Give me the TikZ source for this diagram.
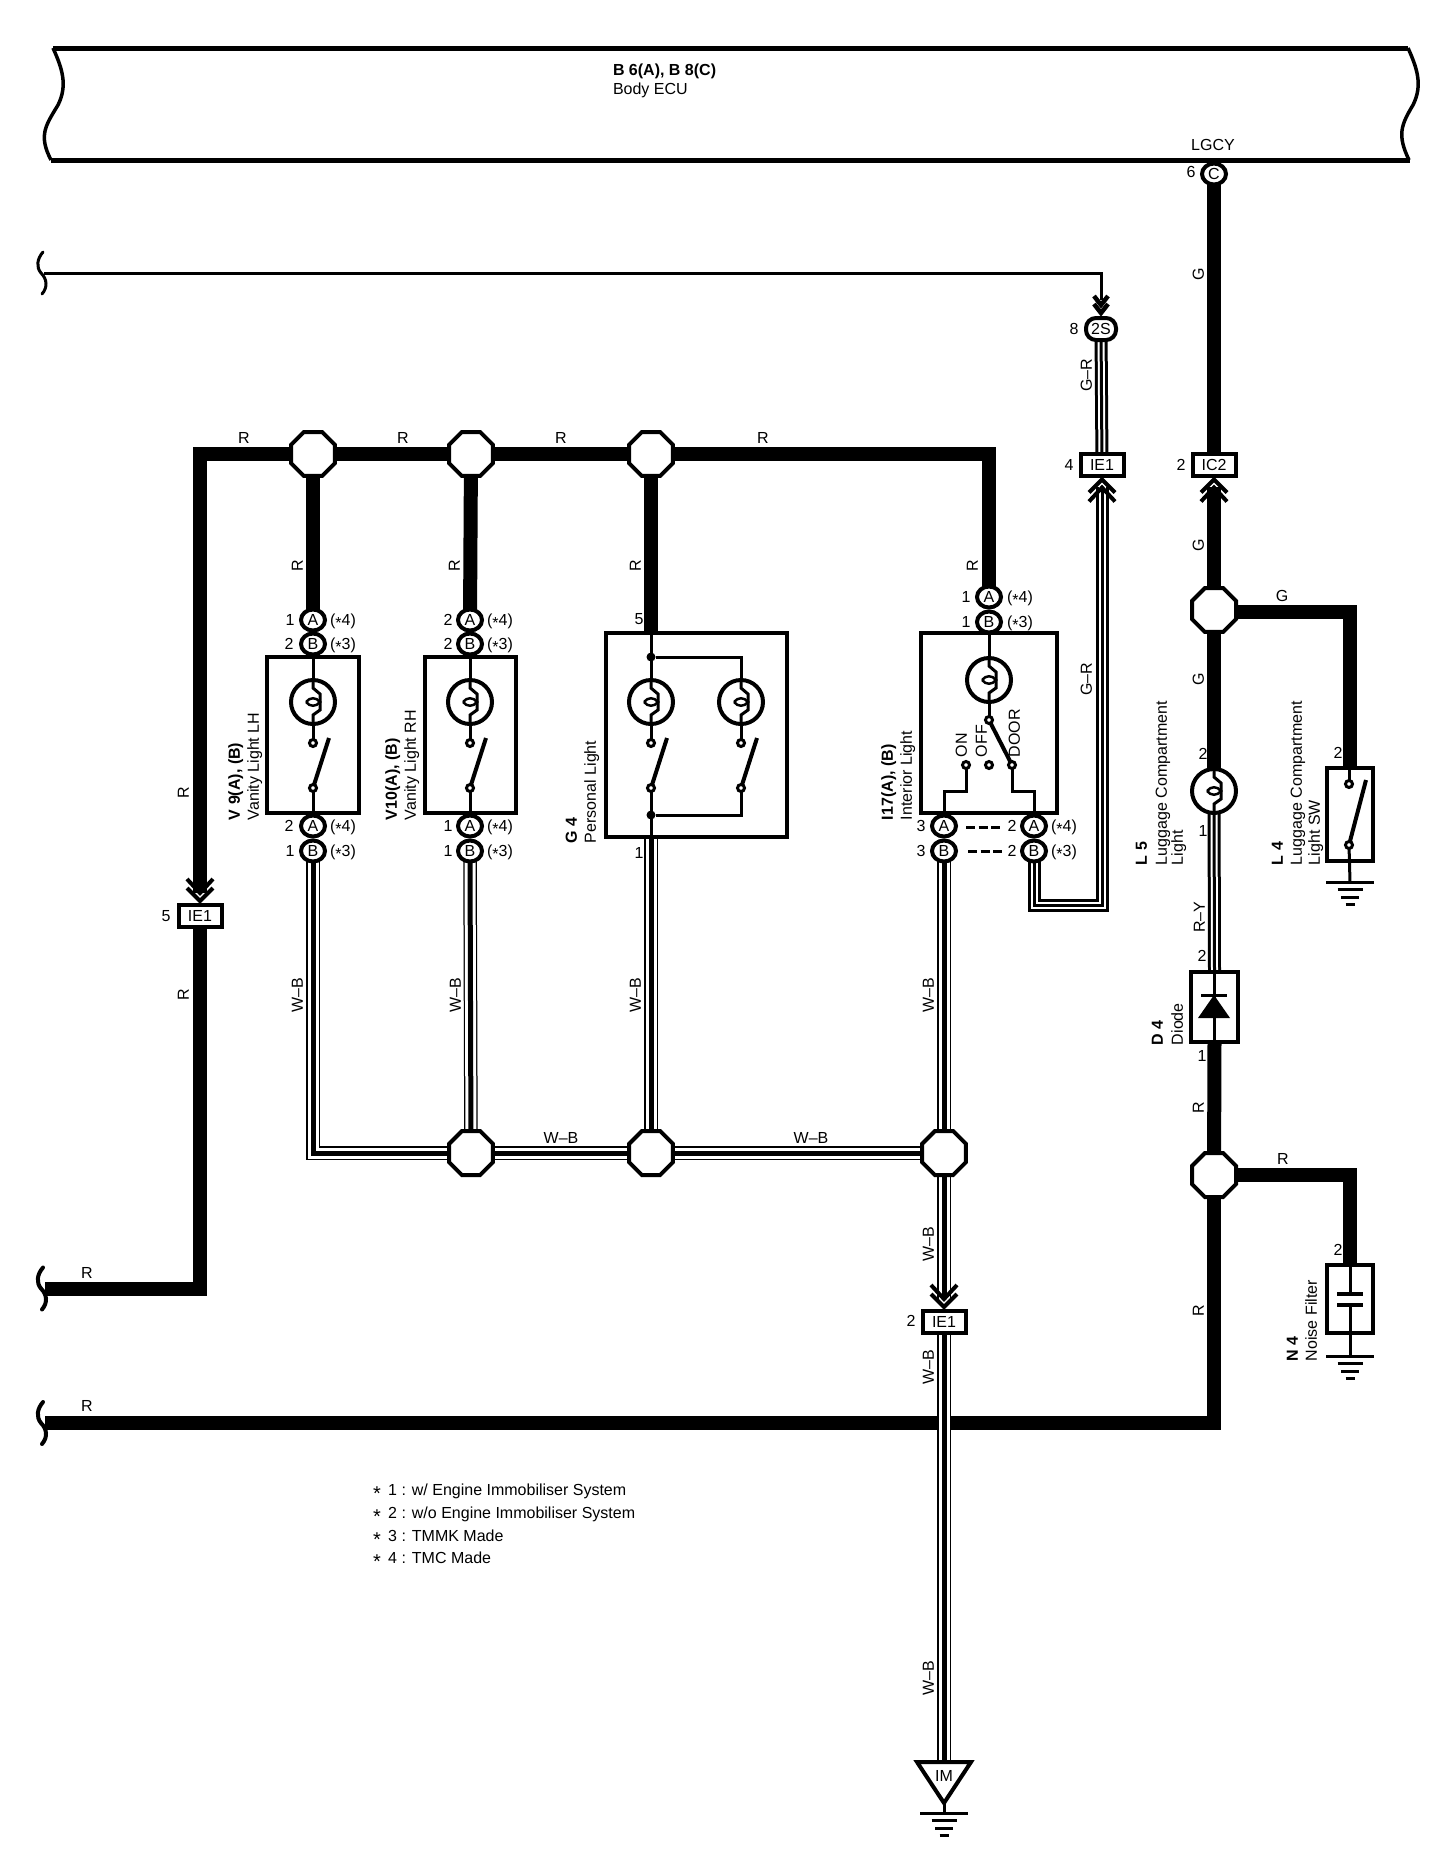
\documentclass[tikz,border=0pt]{standalone}
\usepackage{fontspec}
\setmainfont{Liberation Sans}
\usetikzlibrary{shapes.geometric,backgrounds,calc}
\newcommand{\st}{\raisebox{-3pt}{*}}
\newcommand{\stk}{\raisebox{-4.5pt}{\scalebox{1.25}{*}}}
\tikzset{
  lb/.style={inner sep=0pt,outer sep=0pt,font=\fontsize{16}{16}\selectfont,text height=11.5pt,text depth=0pt},
  lbr/.style={lb,rotate=90},
  lbv/.style={lb,rotate=90,anchor=west},
  bl/.style={font=\fontsize{16}{16}\selectfont\bfseries},
  conn/.style={lb,ellipse,draw,fill=white,line width=4pt,minimum width=24pt,minimum height=21pt},
  joint/.style={regular polygon,regular polygon sides=8,draw,fill=white,line width=4pt,minimum size=47.6pt,inner sep=0pt,outer sep=0pt},
  cbox/.style={lb,rectangle,draw,fill=white,line width=4pt,minimum width=43pt,minimum height=22pt},
  modbox/.style={rectangle,draw,line width=4pt,inner sep=0pt,outer sep=0pt},
  lampc/.style={circle,draw,fill=white,line width=4pt,minimum size=44pt,inner sep=0pt,outer sep=0pt},
  term/.style={circle,draw,fill=white,line width=3pt,minimum size=7pt,inner sep=0pt,outer sep=0pt},
  dotn/.style={circle,fill=black,minimum size=9pt,inner sep=0pt,outer sep=0pt},
  thinw/.style={line width=3pt},
  blade/.style={line width=4pt},
  heavy/.style={line width=14pt},
  grwire/.style={line width=13pt,postaction={draw=white,line width=7pt},postaction={draw=black,line width=3pt}},
  wbwire/.style={line width=13.5pt,postaction={draw=white,line width=11pt},postaction={draw=black,line width=5pt}},
  chev/.style={line width=4pt}
}
\newcommand{\lamp}[3]{%
  \node[lampc] (#1) at (#2,#3) {};
  \begin{scope}[shift={(#2,#3)}]
    \draw[thinw] (0,-22) -- (0,-14) -- (7,-8) -- (7,8) -- (0,13) -- (0,22);
    \draw[line width=2.5pt] (-7,0) .. controls (-3,-5) and (3,-5) .. (7,0) .. controls (3,5) and (-3,5) .. (-7,0);
  \end{scope}}
\newcommand{\swt}[4]{%
  \node[term] (#1a) at (#2,#3) {};
  \node[term] (#1b) at (#2,#4) {};
  \coordinate (#1c) at ($(#2,#3)+(16,-5)$);
  \draw[blade] (#1b) -- (#1c);}
\newcommand{\gnd}[3]{%
  \begin{scope}[shift={(#2,#3)}]
    \coordinate (#1) at (0,0);
    \draw[thinw] (-24,0) -- (24,0);
    \draw[thinw] (-12.5,7.5) -- (12.5,7.5);
    \draw[thinw] (-9,15) -- (9,15);
    \draw[thinw] (-4.5,22.5) -- (4.5,22.5);
  \end{scope}}
\newcommand{\chevd}[2]{%
  \draw[chev] (#1-13,#2-24) -- (#1,#2-10) -- (#1+13,#2-24);
  \draw[chev] (#1-13,#2-15) -- (#1,#2-2) -- (#1+13,#2-15);}
\newcommand{\chevu}[2]{%
  \draw[chev] (#1-13,#2+24) -- (#1,#2+10) -- (#1+13,#2+24);
  \draw[chev] (#1-13,#2+15) -- (#1,#2+2) -- (#1+13,#2+15);}
\newcommand{\brk}[3]{%
  \draw[line width=#3,line cap=round] (#1-4,#2-21) .. controls (#1-10,#2-14) and (#1-11,#2-6) .. (#1-6,#2) .. controls (#1,#2+6) and (#1+1,#2+14) .. (#1-5,#2+21);}
\begin{document}
\begin{tikzpicture}[x=1pt,y=-1pt]
\useasboundingbox (0,0) rectangle (1456,1856);
\begin{pgfonlayer}{background}
\fill[white] (0,0) rectangle (1456,1856);
\end{pgfonlayer}

% Body ECU
\draw[line width=5pt] (53,48) -- (1408,48);
\draw[line width=5pt] (51,160) -- (1410,160);
\draw[line width=3.5pt] (53,48) .. controls (62,68) and (68,85) .. (58,105) .. controls (46,125) and (38,135) .. (51,160);
\draw[line width=3.5pt] (1408,48) .. controls (1417,68) and (1423,85) .. (1413,105) .. controls (1401,125) and (1397,135) .. (1409,160);
\node[lb,bl,anchor=west] (t1) at (613,70) {B 6(A), B 8(C)};
\node[lb,anchor=west] (t2) at (613,89) {Body ECU};
\node[lb] (t3) at (1213,145) {LGCY};

% top thin wire
\coordinate (thinL) at (44,273);
\brk{47}{273}{3pt}
\node[lb,font=\fontsize{16}{16}\selectfont\bfseries,rectangle,draw,fill=white,line width=4pt,rounded corners=10pt,minimum width=30pt,minimum height=22pt] (s2) at (1101,329) {\mdseries 2S};
\coordinate (thinT) at (1101,300);
\draw[line width=4.5pt] (1094,296) -- (1101,305) -- (1108,296);
\draw[line width=4.5pt] (1094,304) -- (1101,313) -- (1108,304);
\node[lb] (n8) at (1074,329) {8};

% box connectors
\node[cbox] (ie4) at (1102,465) {IE1};
\node[cbox] (ic2) at (1214,465) {IC2};
\node[cbox] (ie5) at (200,916) {IE1};
\node[cbox] (ie2) at (944,1321.5) {IE1};
\chevu{1102}{477.5}
\chevu{1214}{477.5}
\chevd{200}{903}
\chevd{944}{1309}
\coordinate (cv4) at (1102,487);
\coordinate (cv2) at (1214,487);
\coordinate (cv5) at (200,893);
\coordinate (cv1) at (944,1299);
\node[lb] (n4) at (1069,465) {4};
\node[lb] (n2a) at (1181,465) {2};
\node[lb] (n5) at (166,916) {5};
\node[lb] (n2b) at (911,1321) {2};

% junctions
\node[joint] (j1) at (313,454) {};
\node[joint] (j2) at (471,454) {};
\node[joint] (j3) at (651,454) {};
\node[joint] (j4) at (471,1153) {};
\node[joint] (j5) at (651,1153) {};
\node[joint] (j6) at (944,1153) {};
\node[joint] (j7) at (1214,610) {};
\node[joint] (j8) at (1214,1175) {};

% modules
\node[modbox,minimum width=92pt,minimum height=156pt] (v9) at (313,735) {};
\node[modbox,minimum width=91pt,minimum height=156pt] (v10) at (470.5,735) {};
\node[modbox,minimum width=181pt,minimum height=204pt] (g4) at (696.5,735) {};
\node[modbox,minimum width=136.5pt,minimum height=180pt] (i17) at (989,723) {};
\node[modbox,minimum width=46pt,minimum height=93pt] (l4) at (1350,814.5) {};
\node[modbox,minimum width=47pt,minimum height=70pt] (d4) at (1214.5,1007) {};
\node[modbox,minimum width=46pt,minimum height=68pt] (n4b) at (1350,1299) {};

% lamps and switches
\lamp{la1}{313}{702}
\lamp{la2}{470}{702}
\lamp{la3}{651}{702}
\lamp{la4}{741}{702}
\lamp{la5}{989}{680}
\lamp{la6}{1214}{791}
\swt{sw1}{313}{743}{788}
\swt{sw2}{470}{743}{788}
\swt{sw3}{651}{743}{788}
\swt{sw4}{741}{743}{788}
\node[term] (sw5a) at (1349,784) {};
\node[term] (sw5b) at (1349,845) {};
\coordinate (sw5c) at (1366,780);
\draw[blade] (sw5b) -- (sw5c);
\node[dotn] (d1) at (651,657) {};
\node[dotn] (d2) at (651,815) {};

% interior light switch
\node[term] (ia) at (989,720) {};
\node[term] (ion) at (966,765) {};
\node[term] (ioff) at (989,765) {};
\node[term] (idoor) at (1012,765) {};
\draw[blade] (ia) -- (idoor);
\coordinate (iL) at (944,791);
\coordinate (iR) at (1034,791);
\node[lbv] (ton) at (961,757) {ON};
\node[lbv] (toff) at (981,757) {OFF};
\node[lbv] (tdoor) at (1014,757) {DOOR};

% round connectors
\node[conn] (cc) at (1214,174) {C};
\node[lb] (n6) at (1191,172) {6};
\node[conn] (v9a) at (313,620) {A};
\node[conn] (v9b) at (313,644) {B};
\node[conn] (v9c) at (313,826) {A};
\node[conn] (v9d) at (313,851) {B};
\node[conn] (v10a) at (470,620) {A};
\node[conn] (v10b) at (470,644) {B};
\node[conn] (v10c) at (470,826) {A};
\node[conn] (v10d) at (470,851) {B};
\node[conn] (i1a) at (989,597) {A};
\node[conn] (i1b) at (989,622) {B};
\node[conn] (i3a) at (944,826) {A};
\node[conn] (i3b) at (944,851) {B};
\node[conn] (i2a) at (1034,826) {A};
\node[conn] (i2b) at (1034,851) {B};

% pin numbers
\node[lb] (p1) at (290,620) {1};
\node[lb] (p2) at (289,644) {2};
\node[lb] (p3) at (289,826) {2};
\node[lb] (p4) at (290,851) {1};
\node[lb] (p5) at (448,620) {2};
\node[lb] (p6) at (448,644) {2};
\node[lb] (p7) at (448,826) {1};
\node[lb] (p8) at (448,851) {1};
\node[lb] (p9) at (639,619) {5};
\node[lb] (p10) at (639,853) {1};
\node[lb] (p11) at (966,597) {1};
\node[lb] (p12) at (966,622) {1};
\node[lb] (p13) at (921,826) {3};
\node[lb] (p14) at (921,851) {3};
\node[lb] (p15) at (1012,826) {2};
\node[lb] (p16) at (1012,851) {2};
\node[lb] (p17) at (1203,754) {2};
\node[lb] (p18) at (1203,831) {1};
\node[lb] (p19) at (1338,753) {2};
\node[lb] (p20) at (1202,956) {2};
\node[lb] (p21) at (1202,1056) {1};
\node[lb] (p22) at (1338,1250) {2};

% (*n) labels
\node[lb] (q1) at (343,620) {(\st4)};
\node[lb] (q2) at (343,644) {(\st3)};
\node[lb] (q3) at (343,826) {(\st4)};
\node[lb] (q4) at (343,851) {(\st3)};
\node[lb] (q5) at (500,620) {(\st4)};
\node[lb] (q6) at (500,644) {(\st3)};
\node[lb] (q7) at (500,826) {(\st4)};
\node[lb] (q8) at (500,851) {(\st3)};
\node[lb] (q9) at (1020,597) {(\st4)};
\node[lb] (q10) at (1020,622) {(\st3)};
\node[lb] (q11) at (1064,826) {(\st4)};
\node[lb] (q12) at (1064,851) {(\st3)};

% dashed links
\coordinate (da) at (966,827);
\coordinate (db) at (1000,827);
\coordinate (dc) at (968,851);
\coordinate (dd) at (1002,851);
\draw[line width=3pt,dash pattern=on 9pt off 3.5pt] (da) -- (db);
\draw[line width=3pt,dash pattern=on 9pt off 3.5pt] (dc) -- (dd);

% component labels
\node[lbv,bl] (a1) at (234,820) {V 9(A), (B)};
\node[lbv] (a2) at (253,820) {Vanity Light LH};
\node[lbv,bl] (a3) at (391,820) {V10(A), (B)};
\node[lbv] (a4) at (410,820) {Vanity Light RH};
\node[lbv,bl] (a5) at (571,843) {G 4};
\node[lbv] (a6) at (590,843) {Personal Light};
\node[lbv,bl] (a7) at (887,820) {I17(A), (B)};
\node[lbv] (a8) at (906,820) {Interior Light};
\node[lbv,bl] (a9) at (1141,865) {L 5};
\node[lbv] (a10) at (1161,865) {Luggage Compartment};
\node[lbv] (a11) at (1177,865) {Light};
\node[lbv,bl] (a12) at (1277,865) {L 4};
\node[lbv] (a13) at (1296,865) {Luggage Compartment};
\node[lbv] (a14) at (1314,865) {Light SW};
\node[lbv,bl] (a15) at (1157,1045) {D 4};
\node[lbv] (a16) at (1177,1045) {Diode};
\node[lbv,bl] (a17) at (1292,1361) {N 4};
\node[lbv] (a18) at (1311,1361) {Noise Filter};

% wire labels
\node[lb] (r1) at (244,438) {R};
\node[lb] (r2) at (403,438) {R};
\node[lb] (r3) at (561,438) {R};
\node[lb] (r4) at (763,438) {R};
\node[lbr] (r5) at (297,566) {R};
\node[lbr] (r6) at (454,566) {R};
\node[lbr] (r7) at (635,566) {R};
\node[lbr] (r8) at (972,566) {R};
\node[lbr] (r9) at (183,793) {R};
\node[lbr] (r10) at (183,995) {R};
\node[lb] (r11) at (87,1273) {R};
\node[lb] (r12) at (87,1406) {R};
\node[lbr] (r13) at (1198,1108) {R};
\node[lbr] (r14) at (1198,1311) {R};
\node[lb] (r15) at (1283,1159) {R};
\node[lbr] (g1) at (1198,274) {G};
\node[lbr] (g2) at (1198,545) {G};
\node[lbr] (g3) at (1198,679) {G};
\node[lb] (g4l) at (1282,596) {G};
\node[lbr] (gr1) at (1086,375) {G--R};
\node[lbr] (gr2) at (1086,679) {G--R};
\node[lbr] (ry) at (1199,917) {R--Y};
\node[lbr] (w1) at (297,995) {W--B};
\node[lbr] (w2) at (455,995) {W--B};
\node[lbr] (w3) at (635,995) {W--B};
\node[lbr] (w4) at (928,995) {W--B};
\node[lb] (w5) at (561,1138) {W--B};
\node[lb] (w6) at (811,1138) {W--B};
\node[lbr] (w7) at (928,1244) {W--B};
\node[lbr] (w8) at (928,1367) {W--B};
\node[lbr] (w9) at (928,1678) {W--B};

% legend
\node[lb,anchor=west] (k1) at (373,1490) {\stk\hspace{3pt} 1 : w/ Engine Immobiliser System};
\node[lb,anchor=west] (k2) at (373,1513) {\stk\hspace{3pt} 2 : w/o Engine Immobiliser System};
\node[lb,anchor=west] (k3) at (373,1536) {\stk\hspace{3pt} 3 : TMMK Made};
\node[lb,anchor=west] (k4) at (373,1558) {\stk\hspace{3pt} 4 : TMC Made};

% ground triangle
\coordinate (ta) at (917,1762);
\coordinate (tb) at (971,1762);
\coordinate (tc) at (944,1803);
\draw[line width=4pt,fill=white] (ta) -- (tb) -- (tc) -- cycle;
\node[lb] (im2) at (944,1776) {IM};
\gnd{gn1}{944}{1813}
\gnd{gn2}{1350}{882}
\gnd{gn3}{1350}{1356}

% diode and capacitor
\coordinate (da1) at (1214,995);
\coordinate (da2) at (1198,1018);
\coordinate (da3) at (1230,1018);
\fill (da1) -- (da2) -- (da3) -- cycle;
\draw[thinw] (1201,995) -- (1227,995);
\draw[line width=4pt] (1337,1294) -- (1363,1294);
\draw[line width=4pt] (1337,1305) -- (1363,1305);

% break marks on the wires
\brk{47}{1288.5}{4pt}
\brk{47}{1423}{4pt}
\coordinate (hL1) at (45,1288.5);
\coordinate (hL2) at (45,1423);
\coordinate (hR1) at (1214,1423);

% wires, behind everything
\begin{pgfonlayer}{background}
\draw[line width=3pt] (thinL) -| (thinT);
\draw[heavy] (cc) -- (ic2);
\draw[heavy] (cv2) -- (j7);
\draw[heavy] (j7) -- (la6);
\draw[heavy] (1214,612) -| (l4.north);
\draw[grwire] (s2) -- (ie4);
\draw[grwire] (cv4) |- (1068,905) -| (i2b);
\draw[grwire] (la6) -- (d4.north);
\draw[heavy] (d4.south) -- (j8);
\draw[heavy] (j8) -- (hR1) -- (hL2);
\draw[heavy] (j8) -| (n4b.north);
\draw[heavy] (cv5) |- (j1);
\draw[heavy] (ie5) |- (hL1);
\draw[heavy] (j1) -- (j2);
\draw[heavy] (j2) -- (j3);
\draw[heavy] (j3) -| (i1a);
\draw[heavy] (j1) -- (v9a);
\draw[heavy] (j2) -- (470,620);
\draw[heavy] (j3) -- (g4.north -| j3);
\draw[wbwire] (v9d) |- (j4);
\draw[wbwire] (v10d) -- (471,1153);
\draw[wbwire] (g4.south -| j5) -- (j5);
\draw[wbwire] (i3b) -- (j6);
\draw[wbwire] (j6) -- (cv1);
\draw[wbwire] (j4) -- (j5);
\draw[wbwire] (j5) -- (j6);
\draw[wbwire] (ie2) -- (944,1762);
% inner lines
\draw[thinw] (v9b) -- (la1);
\draw[thinw] (la1) -- (sw1a);
\draw[thinw] (sw1b) -- (v9c);
\draw[thinw] (v10b) -- (la2);
\draw[thinw] (la2) -- (sw2a);
\draw[thinw] (sw2b) -- (v10c);
\draw[thinw] (g4.north -| la3) -- (la3);
\draw[thinw] (la3) -- (sw3a);
\draw[thinw] (sw3b) -- (g4.south -| la3);
\draw[thinw] (d1) -| (la4);
\draw[thinw] (la4) -- (sw4a);
\draw[thinw] (sw4b) |- (d2);
\draw[thinw] (i1b) -- (la5);
\draw[thinw] (la5) -- (ia);
\draw[thinw] (ion) |- (iL) -- (i3a);
\draw[thinw] (idoor) |- (iR) -- (i2a);
\draw[thinw] (l4.north -| sw5a) -- (sw5a);
\draw[thinw] (sw5b) -- (gn2);
\draw[thinw] (d4.north) -- (d4.south);
\draw[thinw] (n4b.north) -- (1350,1294);
\draw[thinw] (1350,1305) -- (gn3);
\draw[thinw] (tc) -- (gn1);
\end{pgfonlayer}
\end{tikzpicture}
\end{document}
